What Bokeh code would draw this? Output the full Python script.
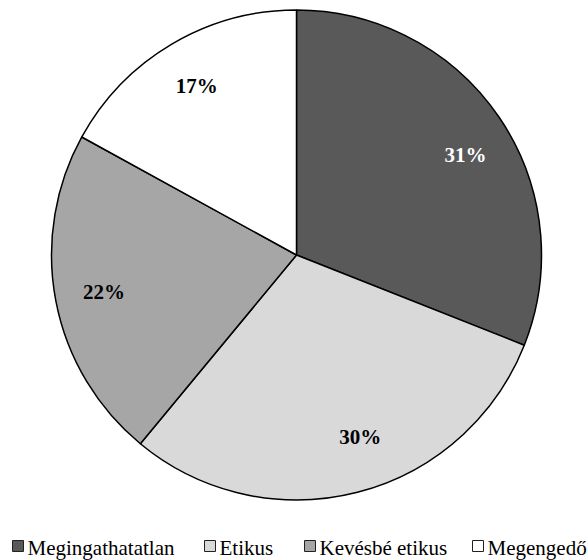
import numpy as np
from bokeh.plotting import figure
from bokeh.models import Range1d, ColumnDataSource
from bokeh.core.properties import value
from bokeh.embed import file_html
from bokeh.resources import INLINE

# Share of respondents per category (percent)
categories = ["Megingathatatlan", "Etikus", "Kevésbé etikus", "Megengedő"]
shares = [31, 30, 22, 17]
slice_colors = ["#595959", "#d9d9d9", "#a6a6a6", "#ffffff"]
label_colors = ["#ffffff", "#000000", "#000000", "#000000"]

W, H = 587, 560
cx, cy, R = 296, 560 - 254.5, 245
label_r = 0.8 * R
# small per-label nudges (pixels) so the labels sit clear of the slice edges
label_dx = [7, 15, 0, 0]
label_dy = [-10, 8, 0, 0]

p = figure(width=W, height=H, output_backend="svg", toolbar_location=None,
           x_range=Range1d(0, W), y_range=Range1d(0, H), min_border=0,
           outline_line_color=None, background_fill_color="white",
           border_fill_color="white")
p.axis.visible = False
p.grid.visible = False

vals = np.array(shares, dtype=float)
frac = vals / vals.sum()
cum = np.concatenate([[0.0], np.cumsum(frac)])
start = np.pi / 2 - 2 * np.pi * cum[:-1]
end = np.pi / 2 - 2 * np.pi * cum[1:]
mid = (start + end) / 2

src = ColumnDataSource(dict(
    start=start, end=end, color=slice_colors,
    lx=cx + label_r * np.cos(mid) + np.array(label_dx),
    ly=cy + label_r * np.sin(mid) + np.array(label_dy),
    text=[f"{v}%" for v in shares], tcolor=label_colors,
))

p.wedge(x=cx, y=cy, radius=R, start_angle="start", end_angle="end",
        direction="clock", fill_color="color", line_color="black",
        line_width=1.5, source=src)

p.text(x="lx", y="ly", text="text", text_color="tcolor", source=src,
       text_font=value("Liberation Serif"), text_font_style="bold",
       text_font_size="21px", text_align="center", text_baseline="middle")

# Legend row along the bottom edge
legend_x = [12, 204, 304, 472]
box = 11
legend_y = 560 - 545.5
p.rect(x=[x + box / 2 for x in legend_x], y=legend_y, width=box, height=box,
       fill_color=slice_colors, line_color="#222222", line_width=1)
p.text(x=[x + box + 4 for x in legend_x], y=560 - 547.5, text=categories,
       text_font=value("Liberation Serif"), text_font_size="21px",
       text_color="black", text_align="left", text_baseline="middle")

open("out.html", "w").write(file_html(p, INLINE))
